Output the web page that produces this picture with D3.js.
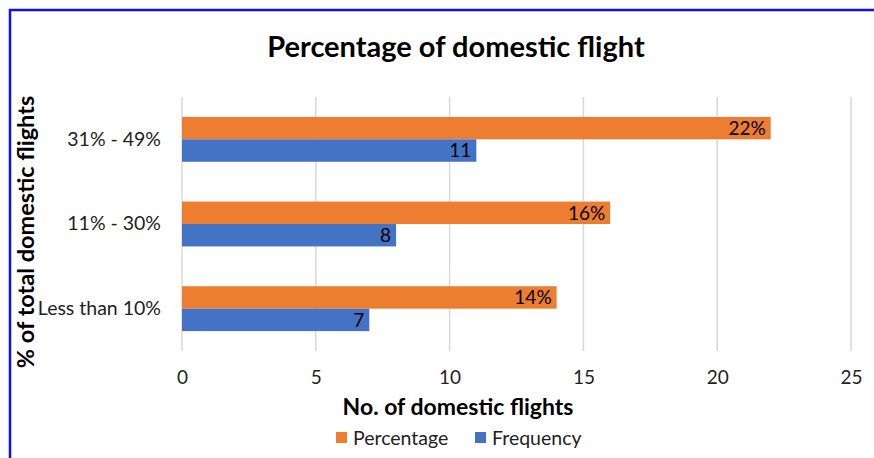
<!DOCTYPE html>
<html>
<head>
<meta charset="utf-8">
<script src="https://cdn.jsdelivr.net/npm/d3@7"></script>
<style>
body { margin: 0; background: #fff; }
svg { display: block; font-family: Lato, "Open Sans", sans-serif; }
</style>
</head>
<body>
<svg width="874" height="458"></svg>
<script>
var categories = ["31% - 49%", "11% - 30%", "Less than 10%"];
var seriesNames = ["Percentage", "Frequency"];
var percentage = [22, 16, 14];
var frequency = [11, 8, 7];
var xTicks = [0, 5, 10, 15, 20, 25];

var colors = {Percentage: "#ED7D31", Frequency: "#4472C4"};

var svg = d3.select("svg"),
margin = {top: 97, right: 23, bottom: 107, left: 182},
width = 874 - margin.left - margin.right,
height = 458 - margin.top - margin.bottom,
g = svg.append("g").attr("transform", "translate(" + margin.left + "," + margin.top + ")");

// frame lines of the original screenshot
svg.append("line").attr("x1", 10).attr("x2", 10).attr("y1", 9).attr("y2", 458)
.attr("stroke", "#1010f0").attr("stroke-width", 2.5);
svg.append("line").attr("x1", 9).attr("x2", 874).attr("y1", 10).attr("y2", 10)
.attr("stroke", "#1010f0").attr("stroke-width", 2.5);

var x = d3.scaleLinear().domain([0, 25]).range([0, width]);

var y = d3.scaleBand().domain(categories).range([0, height]).paddingInner(0.47).paddingOuter(0.235);

var y1 = d3.scaleBand().domain(seriesNames).range([0, y.bandwidth()]);

// gridlines
g.selectAll(".grid")
.data(xTicks)
.enter().append("line")
.attr("x1", function(d) { return x(d); })
.attr("x2", function(d) { return x(d); })
.attr("y1", 0)
.attr("y2", height)
.attr("stroke", "#d9d9d9")
.attr("stroke-width", 1.5);

var rows = categories.map(function(c, i) {
  return {cat: c, values: [
    {key: "Percentage", value: percentage[i], label: percentage[i] + "%"},
    {key: "Frequency", value: frequency[i], label: String(frequency[i])}
  ]};
});

var group = g.selectAll(".cat")
.data(rows)
.enter().append("g")
.attr("transform", function(d) { return "translate(0," + y(d.cat) + ")"; });

group.selectAll("rect")
.data(function(d) { return d.values; })
.enter().append("rect")
.attr("x", x(0))
.attr("y", function(d) { return y1(d.key); })
.attr("width", function(d) { return x(d.value) - x(0); })
.attr("height", y1.bandwidth())
.attr("fill", function(d) { return colors[d.key]; });

group.selectAll(".lbl")
.data(function(d) { return d.values; })
.enter().append("text")
.attr("x", function(d) { return x(d.value) - 5; })
.attr("y", function(d) { return y1(d.key) + y1.bandwidth() / 2; })
.attr("dy", "0.36em")
.attr("text-anchor", "end")
.attr("font-size", 19)
.attr("fill", "#000")
.text(function(d) { return d.label; });

// category labels
g.append("g")
.call(d3.axisLeft(y).tickSize(0).tickPadding(21))
.call(function(a) { a.select(".domain").remove(); })
.selectAll("text")
.attr("font-size", 19.5)
.attr("font-family", "Lato, 'Open Sans', sans-serif")
.attr("fill", "#222");

// x tick labels
g.append("g")
.attr("transform", "translate(0," + height + ")")
.call(d3.axisBottom(x).tickValues(xTicks).tickSize(0).tickPadding(20))
.call(function(a) { a.select(".domain").remove(); })
.selectAll("text")
.attr("font-size", 19)
.attr("font-family", "Lato, 'Open Sans', sans-serif")
.attr("fill", "#222");

svg.append("text")
.attr("x", 456)
.attr("y", 57)
.attr("text-anchor", "middle")
.attr("font-size", 29)
.attr("font-weight", "bold")
.text("Percentage of domestic flight");

svg.append("text")
.attr("x", 458)
.attr("y", 415)
.attr("text-anchor", "middle")
.attr("font-size", 23)
.attr("font-weight", "bold")
.text("No. of domestic flights");

svg.append("text")
.attr("transform", "translate(34,232) rotate(-90)")
.attr("text-anchor", "middle")
.attr("font-size", 23.5)
.attr("font-weight", "bold")
.text("% of total domestic flights");

// legend
var legend = svg.append("g").attr("transform", "translate(336,438)");
var lx = [0, 139];
seriesNames.forEach(function(s, i) {
  legend.append("rect")
  .attr("x", lx[i]).attr("y", -6).attr("width", 11).attr("height", 11)
  .attr("fill", colors[s]);
  legend.append("text")
  .attr("x", lx[i] + 17).attr("y", 0).attr("dy", "0.36em")
  .attr("font-size", 19.5).attr("fill", "#222")
  .text(s);
});
</script>
</body>
</html>
